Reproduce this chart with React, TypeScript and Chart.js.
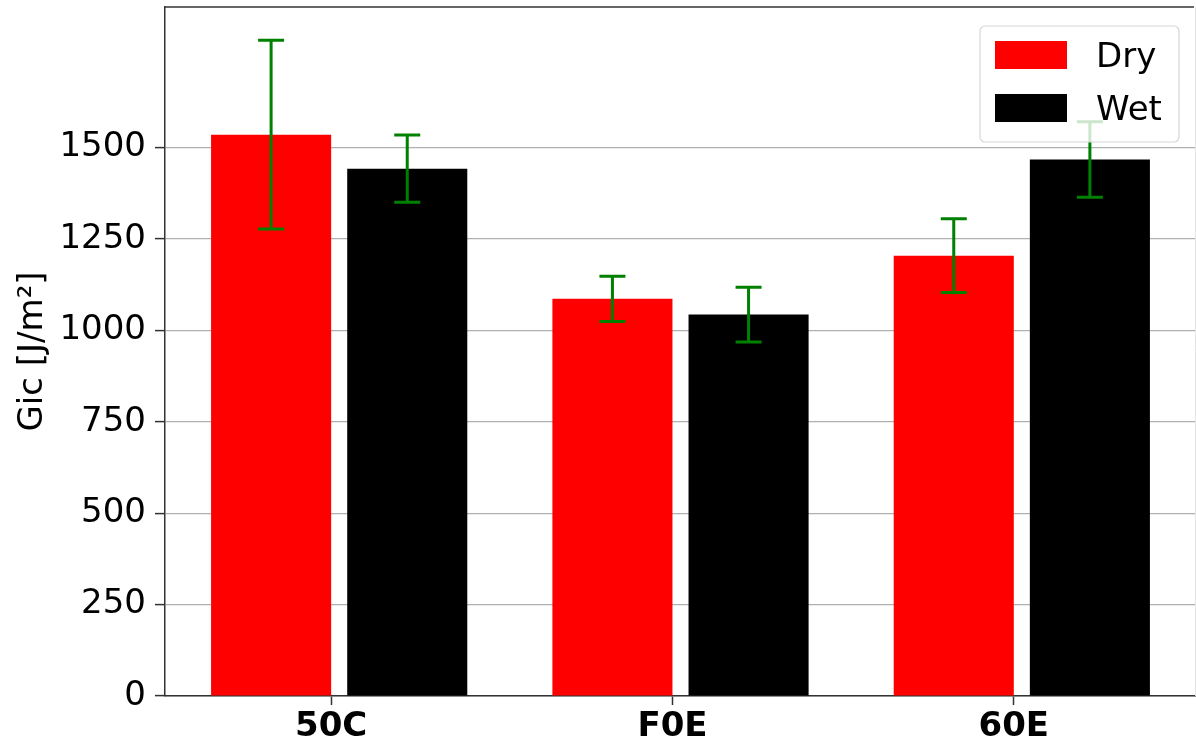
import React, { useEffect, useRef } from 'react';
import { Chart, registerables } from 'chart.js';

Chart.register(...registerables);

const categories = ['50C', 'F0E', '60E'];
const seriesLabels = ['Dry', 'Wet'];
const dryValues = [1535, 1086, 1204];
const wetValues = [1442, 1043, 1467];
const dryErrors = [258, 62, 101];
const wetErrors = [92, 75, 103];
const yTickValues = [0, 250, 500, 750, 1000, 1250, 1500];
const yTitle = 'Gic [J/m²]';
const yMax = 1884;

const FONT = "'DejaVu Sans', sans-serif";
const seriesColors = ['#ff0000', '#000000'];
const errColor = '#008000';

const CAT_PCT = 0.7977;
const BAR_PCT = 0.882;
const X_MIN = -0.5103;
const X_MAX = 2.5103;
// half gap between the two bars in a group (x units): ticks sit on the red bar's right edge
const TICK_SHIFT = ((CAT_PCT / 2) * (1 - BAR_PCT)) / 2;

const errorBarsPlugin = {
  id: 'errorBars',
  afterDatasetsDraw(chart: any) {
    const ctx = chart.ctx;
    const y = chart.scales.y;
    const vals = [dryValues, wetValues];
    const errs = [dryErrors, wetErrors];
    ctx.save();
    ctx.strokeStyle = errColor;
    ctx.lineWidth = 3;
    for (let d = 0; d < 2; d++) {
      const meta = chart.getDatasetMeta(d);
      meta.data.forEach((el: any, j: number) => {
        const x = el.x;
        const top = y.getPixelForValue(vals[d][j] + errs[d][j]);
        const bot = y.getPixelForValue(vals[d][j] - errs[d][j]);
        ctx.beginPath();
        ctx.moveTo(x, top);
        ctx.lineTo(x, bot);
        ctx.moveTo(x - 13, top);
        ctx.lineTo(x + 13, top);
        ctx.moveTo(x - 13, bot);
        ctx.lineTo(x + 13, bot);
        ctx.stroke();
      });
    }
    ctx.restore();
  },
};

const framePlugin = {
  id: 'frame',
  afterDraw(chart: any) {
    const ctx = chart.ctx;
    const a = chart.chartArea;
    ctx.save();
    ctx.strokeStyle = '#333333';
    ctx.lineWidth = 1.5;
    ctx.beginPath();
    ctx.moveTo(a.left, a.top);
    ctx.lineTo(a.right - 2, a.top);
    ctx.stroke();
    ctx.strokeStyle = '#e4e4e4';
    ctx.lineWidth = 1;
    ctx.beginPath();
    ctx.moveTo(a.right - 0.5, a.top);
    ctx.lineTo(a.right - 0.5, a.bottom);
    ctx.stroke();
    // y title
    ctx.fillStyle = '#000';
    ctx.font = `34px ${FONT}`;
    ctx.textAlign = 'center';
    ctx.textBaseline = 'middle';
    ctx.translate(33, (a.top + a.bottom) / 2);
    ctx.rotate(-Math.PI / 2);
    ctx.fillText(yTitle, 0, 0);
    ctx.restore();
  },
};

const legendPlugin = {
  id: 'customLegend',
  afterDraw(chart: any) {
    const ctx = chart.ctx;
    const a = chart.chartArea;
    const bx = a.right - 216;
    const by = a.top + 19;
    const bw = 199;
    const bh = 116;
    ctx.save();
    ctx.beginPath();
    if (ctx.roundRect) ctx.roundRect(bx, by, bw, bh, 5);
    else ctx.rect(bx, by, bw, bh);
    ctx.fillStyle = 'rgba(255,255,255,0.8)';
    ctx.fill();
    ctx.strokeStyle = '#d6d6d6';
    ctx.lineWidth = 1.2;
    ctx.stroke();
    ctx.font = `34px ${FONT}`;
    ctx.textAlign = 'left';
    ctx.textBaseline = 'alphabetic';
    seriesLabels.forEach((lab, i) => {
      const py = by + 15 + i * 53;
      ctx.fillStyle = seriesColors[i];
      ctx.fillRect(bx + 15, py, 72, 28);
      ctx.fillStyle = '#000';
      ctx.fillText(lab, bx + 116, py + 26);
    });
    ctx.restore();
  },
};

export default function App() {
  const ref = useRef<HTMLCanvasElement | null>(null);

  useEffect(() => {
    if (!ref.current) return;
    const chart = new Chart(ref.current, {
      type: 'bar',
      data: {
        datasets: [
          {
            label: seriesLabels[0],
            data: dryValues.map((v, i) => ({ x: i, y: v })),
            backgroundColor: seriesColors[0],
            borderWidth: 0,
            categoryPercentage: CAT_PCT,
            barPercentage: BAR_PCT,
          },
          {
            label: seriesLabels[1],
            data: wetValues.map((v, i) => ({ x: i, y: v })),
            backgroundColor: seriesColors[1],
            borderWidth: 0,
            categoryPercentage: CAT_PCT,
            barPercentage: BAR_PCT,
          },
        ],
      } as any,
      options: {
        responsive: false,
        animation: false,
        devicePixelRatio: 1,
        layout: { padding: { top: 7, right: 0, left: 0, bottom: 0 } },
        plugins: {
          legend: { display: false },
          tooltip: { enabled: false },
          title: { display: false },
        },
        scales: {
          x: {
            type: 'linear',
            display: false,
            offset: false,
            grid: { offset: false },
            min: X_MIN,
            max: X_MAX,
            afterBuildTicks: (s: any) => {
              s.ticks = categories.map((_, i) => ({ value: i }));
            },
          },
          x2: {
            type: 'linear',
            position: 'bottom',
            offset: false,
            min: X_MIN + TICK_SHIFT,
            max: X_MAX + TICK_SHIFT,
            afterBuildTicks: (s: any) => {
              s.ticks = categories.map((_, i) => ({ value: i }));
            },
            afterFit: (s: any) => {
              s.height = 51;
              s.paddingLeft = 0;
              s.paddingRight = 0;
            },
            grid: {
              offset: false,
              drawOnChartArea: false,
              drawTicks: true,
              tickLength: 9,
              tickColor: '#333333',
              tickWidth: 1.5,
            },
            border: { display: true, color: '#333333', width: 1.5 },
            ticks: {
              autoSkip: false,
              maxRotation: 0,
              padding: 2,
              color: '#000',
              font: { family: FONT, size: 34, weight: 'bold' },
              callback: (_v: any, i: number) => categories[i],
            },
          },
          y: {
            type: 'linear',
            min: 0,
            max: yMax,
            afterBuildTicks: (s: any) => {
              s.ticks = yTickValues.map((v) => ({ value: v }));
            },
            afterFit: (s: any) => {
              s.width = 165;
              s.paddingTop = 0;
              s.paddingBottom = 0;
            },
            grid: {
              color: '#b0b0b0',
              lineWidth: 1.2,
              drawTicks: true,
              tickLength: 10,
              tickColor: '#333333',
              tickWidth: 1.5,
            },
            border: { display: true, color: '#333333', width: 1.5 },
            ticks: {
              padding: 9,
              color: '#000',
              font: { family: FONT, size: 34 },
              callback: (v: any) => String(v),
            },
          },
        },
      } as any,
      plugins: [errorBarsPlugin, framePlugin, legendPlugin],
    });
    return () => chart.destroy();
  }, []);

  return (
    <div style={{ position: 'absolute', left: 0, top: 0, width: 1196, height: 747, background: '#fff' }}>
      <canvas ref={ref} width={1196} height={747} style={{ display: 'block' }} />
    </div>
  );
}
